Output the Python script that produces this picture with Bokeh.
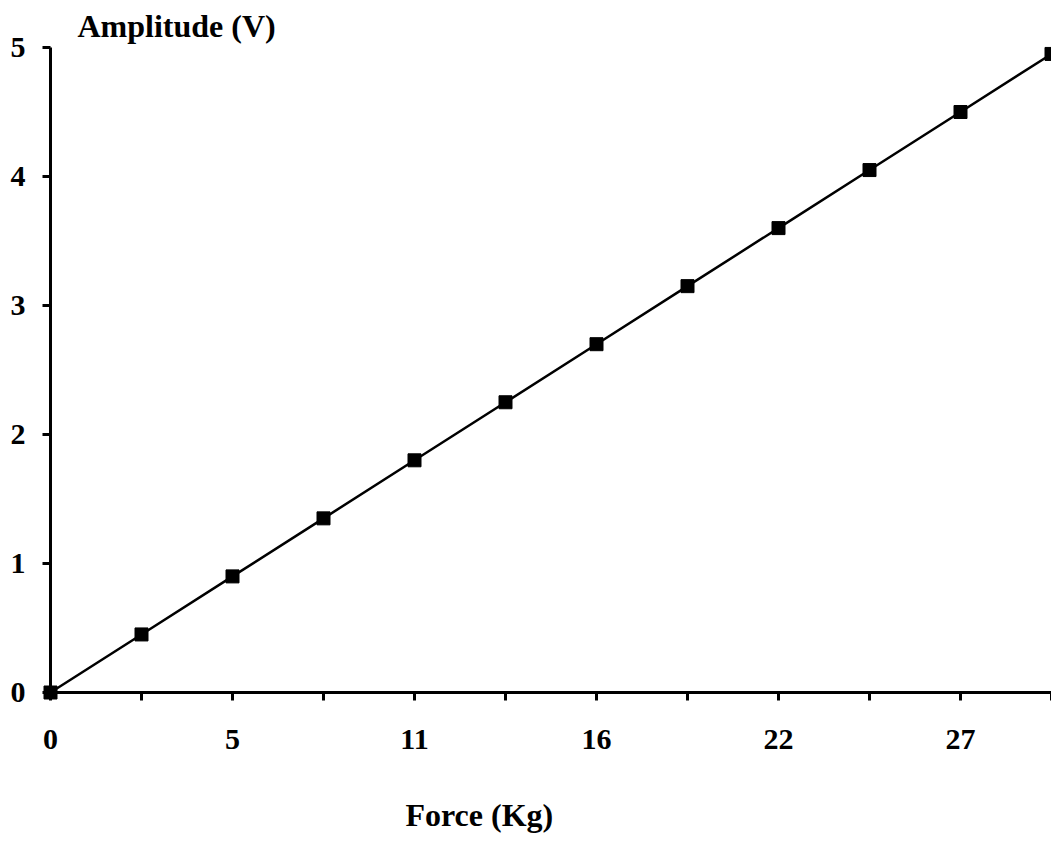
from bokeh.plotting import figure
from bokeh.models import FixedTicker, Range1d, ColumnDataSource
from bokeh.core.properties import value
from bokeh.embed import file_html
from bokeh.resources import INLINE

force = [0.0, 2.7, 5.4, 8.1, 10.8, 13.5, 16.2, 18.9, 21.6, 24.3, 27.0, 29.7]
amplitude = [0.0, 0.45, 0.90, 1.35, 1.80, 2.25, 2.70, 3.15, 3.60, 4.05, 4.50, 4.95]
x_tick_labels = ["0", "", "5", "", "11", "", "16", "", "22", "", "27", ""]
y_ticks = [0, 1, 2, 3, 4, 5]
x_title = "Force (Kg)"
y_title = "Amplitude (V)"

FONT = "Liberation Serif"

src = ColumnDataSource(dict(x=force, y=amplitude))

p = figure(width=1051, height=836, output_backend="svg", toolbar_location=None,
           x_range=Range1d(0, 29.7), y_range=Range1d(0, 5),
           title=y_title)
p.min_border_left = 50
p.min_border_right = 0
p.min_border_top = 47
p.min_border_bottom = 144
p.outline_line_color = None
p.grid.grid_line_color = None

p.title.text_font = FONT
p.title.text_font_style = "bold"
p.title.text_font_size = "32px"
p.title.text_color = "black"
p.title.align = "left"
p.title.offset = 27
p.title.standoff = 8

for ax in (p.xaxis[0], p.yaxis[0]):
    ax.axis_line_width = 3
    ax.axis_line_color = "black"
    ax.major_tick_line_width = 3
    ax.major_tick_line_color = "black"
    ax.major_tick_in = 0
    ax.major_tick_out = 8
    ax.minor_tick_line_color = None
    ax.major_label_text_font = FONT
    ax.major_label_text_font_style = "bold"
    ax.major_label_text_font_size = "30px"
    ax.major_label_text_color = "black"

p.xaxis.ticker = FixedTicker(ticks=force)
p.xaxis.major_label_overrides = {f: lab for f, lab in zip(force, x_tick_labels)}
p.xaxis.major_label_standoff = 29

p.yaxis.ticker = FixedTicker(ticks=y_ticks)
p.yaxis.major_label_standoff = 17

l = p.line("x", "y", source=src, line_color="black", line_width=2.5)
s = p.scatter("x", "y", source=src, marker="square", size=13,
              fill_color="black", line_color="black")
l.level = "overlay"
s.level = "overlay"

# x-axis title, placed below the tick labels (left-aligned as in the original)
t = p.text(x=[10.53], y=[0], text=[x_title], y_offset=104,
           text_font=value(FONT), text_font_style="bold", text_font_size="32px",
           text_color="black", text_align="left", text_baseline="top")
t.level = "overlay"

open("out.html", "w").write(file_html(p, INLINE))
